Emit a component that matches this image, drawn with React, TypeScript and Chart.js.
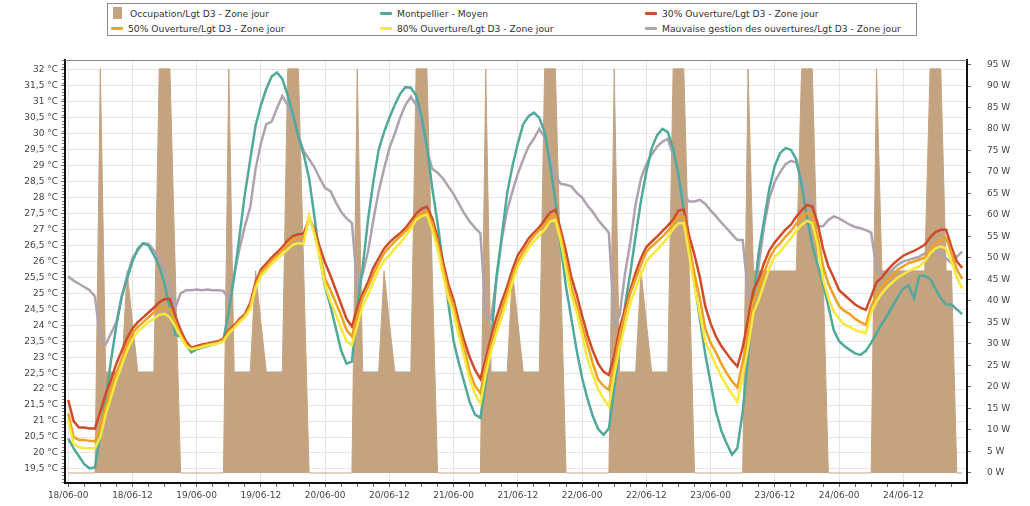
import React, { useEffect, useRef } from 'react';
import { Chart, registerables } from 'chart.js';

Chart.register(...registerables);

// X tick labels, one every 12 hours (hour 0 = 18/06-00)
const xTickLabels = [
  '18/06-00', '18/06-12', '19/06-00', '19/06-12', '20/06-00', '20/06-12', '21/06-00',
  '21/06-12', '22/06-00', '22/06-12', '23/06-00', '23/06-12', '24/06-00', '24/06-12',
];

// Occupation/Lgt D3 - Zone jour (W), hourly
const occupation = [
  0, 0, 0, 0, 0, 0, 94, 23.5, 23.5, 23.5, 23.5, 47, 35, 23.5, 23.5, 23.5, 23.5, 94, 94, 94, 47, 0, 0, 0,
  0, 0, 0, 0, 0, 0, 94, 23.5, 23.5, 23.5, 23.5, 47, 35, 23.5, 23.5, 23.5, 23.5, 94, 94, 94, 47, 0, 0, 0,
  0, 0, 0, 0, 0, 0, 94, 23.5, 23.5, 23.5, 23.5, 47, 35, 23.5, 23.5, 23.5, 23.5, 94, 94, 94, 47, 0, 0, 0,
  0, 0, 0, 0, 0, 0, 94, 23.5, 23.5, 23.5, 23.5, 47, 35, 23.5, 23.5, 23.5, 23.5, 94, 94, 94, 47, 0, 0, 0,
  0, 0, 0, 0, 0, 0, 94, 23.5, 23.5, 23.5, 23.5, 47, 35, 23.5, 23.5, 23.5, 23.5, 94, 94, 94, 47, 0, 0, 0,
  0, 0, 0, 0, 0, 0, 0, 94, 47, 47, 47, 47, 47, 47, 47, 47, 47, 94, 94, 94, 47, 47, 0, 0,
  0, 0, 0, 0, 0, 0, 0, 94, 47, 47, 47, 47, 47, 47, 47, 47, 47, 94, 94, 94, 47, 47, 0, 0,
];

// Montpellier - Moyen (°C)
const montpellier = [
  20.45, 20.15, 19.9, 19.65, 19.52, 19.55, 20.6, 21.7, 22.9, 24.0, 24.9, 25.45, 26.0, 26.4, 26.57, 26.5, 26.2, 25.85, 25.3, 24.5, 23.7, 23.65, 23.4, 23.15,
  23.25, 23.3, 23.35, 23.4, 23.45, 23.55, 24.45, 25.5, 26.8, 28.1, 29.18, 30.25, 30.9, 31.4, 31.79, 31.92, 31.72, 31.2, 30.6, 29.9, 29.35, 28.6, 27.4, 26.1,
  25.2, 24.6, 23.9, 23.2, 22.8, 22.86, 24.6, 25.8, 27.3, 28.5, 29.5, 30.05, 30.5, 30.9, 31.25, 31.46, 31.44, 31.2, 30.55, 29.6, 28.3, 27.2, 25.95, 24.7,
  23.5, 22.8, 22.2, 21.6, 21.2, 21.1, 22.2, 23.5, 25.5, 26.8, 28.14, 29.0, 29.7, 30.3, 30.55, 30.66, 30.5, 30.05, 29.05, 27.9, 26.5, 25.2, 24.2, 23.2,
  22.35, 21.7, 21.15, 20.75, 20.57, 20.77, 22.0, 23.3, 24.6, 25.63, 26.8, 27.9, 28.8, 29.55, 29.95, 30.15, 30.05, 29.55, 28.7, 27.6, 26.4, 25.3, 24.2, 23.1,
  22.2, 21.3, 20.7, 20.3, 19.95, 20.15, 21.3, 23.0, 24.8, 26.3, 27.3, 28.3, 29.0, 29.4, 29.55, 29.5, 29.2, 28.4, 27.4, 26.5, 25.9, 25.3, 24.6, 23.85,
  23.5, 23.35, 23.23, 23.12, 23.07, 23.2, 23.45, 23.75, 24.05, 24.3, 24.6, 24.9, 25.15, 25.25, 24.85, 25.55, 25.55, 25.45, 25.15, 24.85, 24.65, 24.65, 24.5, 24.35,
];

// 30% Ouverture/Lgt D3 - Zone jour (°C)
const ouverture30 = [
  21.66, 21.0, 20.8, 20.8, 20.77, 20.77, 21.3, 21.85, 22.3, 22.8, 23.2, 23.6, 23.9, 24.1, 24.25, 24.4, 24.55, 24.72, 24.82, 24.82, 24.3, 23.85, 23.5, 23.3,
  23.35, 23.4, 23.43, 23.47, 23.5, 23.58, 23.85, 24.0, 24.2, 24.35, 24.7, 25.35, 25.75, 25.93, 26.12, 26.28, 26.45, 26.65, 26.8, 26.85, 26.87, 27.35, 27.0, 26.45,
  25.95, 25.55, 25.1, 24.65, 24.2, 23.96, 24.55, 25.0, 25.35, 25.8, 26.1, 26.4, 26.6, 26.75, 26.88, 27.05, 27.27, 27.5, 27.65, 27.72, 27.35, 26.75, 26.0, 25.3,
  24.79, 24.1, 23.5, 23.0, 22.6, 22.32, 22.95, 23.65, 24.25, 24.75, 25.21, 25.75, 26.2, 26.45, 26.72, 26.9, 27.07, 27.3, 27.53, 27.62, 27.0, 26.3, 25.5, 24.95,
  24.3, 23.7, 23.2, 22.8, 22.55, 22.44, 23.05, 23.9, 24.5, 25.1, 25.65, 26.1, 26.45, 26.62, 26.78, 26.95, 27.12, 27.3, 27.6, 27.62, 26.8, 26.2, 25.5, 24.6,
  24.06, 23.65, 23.35, 23.12, 22.9, 22.71, 23.3, 24.2, 25.1, 25.45, 25.95, 26.35, 26.6, 26.8, 27.0, 27.15, 27.4, 27.6, 27.77, 27.72, 27.2, 26.4, 25.85, 25.5,
  25.1, 24.95, 24.8, 24.65, 24.55, 24.48, 24.9, 25.35, 25.5, 25.72, 25.9, 26.05, 26.18, 26.26, 26.33, 26.42, 26.52, 26.75, 26.92, 26.99, 26.99, 26.45, 26.0, 25.8,
];

// 50% Ouverture/Lgt D3 - Zone jour (°C)
const ouverture50 = [
  21.24, 20.51, 20.41, 20.41, 20.38, 20.36, 20.8, 21.45, 22.0, 22.5, 22.95, 23.4, 23.75, 23.95, 24.1, 24.25, 24.4, 24.55, 24.58, 24.5, 24.1, 23.7, 23.4, 23.25,
  23.3, 23.35, 23.4, 23.43, 23.46, 23.54, 23.8, 23.95, 24.15, 24.3, 24.6, 25.25, 25.65, 25.83, 26.03, 26.18, 26.35, 26.55, 26.7, 26.7, 26.72, 27.38, 26.9, 26.25,
  25.45, 25.1, 24.7, 24.3, 23.85, 23.65, 24.3, 24.85, 25.2, 25.6, 25.95, 26.25, 26.45, 26.63, 26.78, 26.95, 27.12, 27.35, 27.5, 27.56, 27.2, 26.6, 25.8, 25.1,
  24.6, 23.9, 23.25, 22.55, 22.1, 21.87, 22.75, 23.4, 24.0, 24.5, 25.0, 25.55, 26.0, 26.3, 26.58, 26.8, 26.98, 27.15, 27.4, 27.45, 26.8, 26.0, 25.2, 24.6,
  24.0, 23.4, 22.8, 22.3, 22.1, 21.98, 22.75, 23.65, 24.35, 25.0, 25.45, 25.9, 26.3, 26.47, 26.62, 26.78, 26.95, 27.2, 27.41, 27.41, 26.55, 25.6, 24.85, 23.9,
  23.45, 23.15, 22.8, 22.5, 22.25, 22.05, 22.85, 23.75, 24.75, 25.15, 25.65, 26.1, 26.4, 26.57, 26.78, 26.95, 27.18, 27.38, 27.51, 27.45, 26.8, 25.85, 25.3, 24.95,
  24.6, 24.45, 24.35, 24.2, 24.1, 24.01, 24.6, 24.95, 25.2, 25.4, 25.55, 25.75, 25.85, 25.95, 26.0, 26.06, 26.12, 26.35, 26.55, 26.67, 26.73, 26.25, 25.75, 25.45,
];

// 80% Ouverture/Lgt D3 - Zone jour (°C)
const ouverture80 = [
  21.03, 20.3, 20.18, 20.15, 20.15, 20.15, 20.5, 21.2, 21.75, 22.3, 22.75, 23.2, 23.55, 23.8, 23.95, 24.1, 24.2, 24.33, 24.36, 24.25, 23.95, 23.65, 23.35, 23.25,
  23.28, 23.32, 23.37, 23.4, 23.43, 23.5, 23.75, 23.9, 24.1, 24.25, 24.5, 25.15, 25.55, 25.72, 25.92, 26.07, 26.22, 26.38, 26.53, 26.57, 26.55, 27.45, 26.85, 26.1,
  25.25, 24.75, 24.35, 23.9, 23.5, 23.38, 24.0, 24.6, 24.95, 25.35, 25.75, 26.02, 26.2, 26.4, 26.57, 26.8, 27.02, 27.3, 27.42, 27.46, 27.0, 26.4, 25.6, 24.85,
  24.38, 23.65, 23.0, 22.3, 21.85, 21.55, 22.45, 23.2, 23.75, 24.25, 24.79, 25.35, 25.85, 26.15, 26.42, 26.62, 26.82, 27.0, 27.25, 27.3, 26.65, 25.75, 24.95, 24.4,
  23.7, 22.95, 22.45, 22.0, 21.7, 21.45, 22.45, 23.3, 24.0, 24.69, 25.15, 25.6, 26.0, 26.2, 26.36, 26.55, 26.75, 27.02, 27.2, 27.2, 26.2, 25.2, 24.35, 23.5,
  23.12, 22.75, 22.4, 22.1, 21.85, 21.61, 22.4, 23.3, 24.4, 24.8, 25.3, 25.8, 26.15, 26.3, 26.52, 26.72, 26.95, 27.15, 27.27, 27.2, 26.5, 25.45, 24.85, 24.45,
  24.2, 24.02, 23.95, 23.85, 23.8, 23.75, 24.4, 24.75, 25.0, 25.2, 25.35, 25.5, 25.6, 25.7, 25.78, 25.84, 26.0, 26.25, 26.4, 26.47, 26.4, 26.0, 25.5, 25.15,
];

// Mauvaise gestion des ouvertures/Lgt D3 - Zone jour (°C)
const mauvaiseGestion = [
  25.53, 25.4, 25.3, 25.2, 25.1, 24.9, 23.55, 23.4, 23.75, 24.1, 24.9, 25.55, 26.1, 26.35, 26.57, 26.55, 26.35, 26.1, 25.75, 25.2, 24.55, 25.0, 25.1, 25.1,
  25.12, 25.1, 25.12, 25.1, 25.1, 25.08, 24.8, 25.6, 26.4, 27.1, 27.7, 28.9, 29.7, 30.3, 30.38, 30.8, 31.18, 30.9, 30.45, 29.95, 29.45, 29.2, 28.95, 28.6,
  28.3, 28.2, 27.85, 27.55, 27.35, 27.2, 25.2, 25.6, 26.3, 27.3, 28.2, 28.9, 29.55, 30.0, 30.5, 30.9, 31.16, 30.9, 30.25, 29.5, 28.9, 28.78, 28.6, 28.35,
  28.1, 27.8, 27.5, 27.25, 27.05, 26.88, 24.3, 24.2, 25.45, 26.7, 27.6, 28.2, 28.75, 29.2, 29.6, 29.85, 30.15, 29.9, 29.3, 28.7, 28.43, 28.4, 28.35, 28.15,
  28.0, 27.75, 27.55, 27.3, 27.1, 26.9, 24.0, 24.3, 25.6, 26.6, 27.8, 28.6, 29.05, 29.35, 29.6, 29.75, 29.84, 29.35, 28.7, 28.05, 27.88, 27.88, 27.93, 27.8,
  27.6, 27.42, 27.22, 27.04, 26.85, 26.67, 26.67, 25.0, 24.7, 25.9, 27.1, 28.0, 28.5, 28.8, 29.05, 29.15, 29.1, 28.6, 28.15, 27.75, 27.1, 27.1, 27.3, 27.41,
  27.35, 27.25, 27.15, 27.08, 27.04, 26.98, 26.9, 25.75, 25.6, 25.63, 25.75, 25.9, 26.0, 26.05, 26.1, 26.15, 26.25, 26.31, 26.36, 26.25, 26.1, 25.95, 26.15, 26.31,
];

const FONT = '"DejaVu Sans", Verdana, sans-serif';

const COLORS = {
  occupation: '#C4A380',
  montpellier: '#50A99B',
  o30: '#CF4B29',
  o50: '#EFA122',
  o80: '#F6E83C',
  mauvaise: '#AEA2AE',
};

const legendItems = [
  { label: 'Occupation/Lgt D3 - Zone jour', color: COLORS.occupation, box: true, left: 113, top: 6 },
  { label: 'Montpellier - Moyen', color: COLORS.montpellier, box: false, left: 380, top: 6 },
  { label: '30% Ouverture/Lgt D3 - Zone jour', color: COLORS.o30, box: false, left: 645, top: 6 },
  { label: '50% Ouverture/Lgt D3 - Zone jour', color: COLORS.o50, box: false, left: 111, top: 21 },
  { label: '80% Ouverture/Lgt D3 - Zone jour', color: COLORS.o80, box: false, left: 380, top: 21 },
  { label: 'Mauvaise gestion des ouvertures/Lgt D3 - Zone jour', color: COLORS.mauvaise, box: false, left: 645, top: 21 },
];

const frameAndMinorTicks = {
  id: 'frameAndMinorTicks',
  afterDraw(chart: any) {
    const { ctx, chartArea, scales } = chart;
    ctx.save();
    ctx.strokeStyle = '#888';
    ctx.lineWidth = 1;
    ctx.beginPath();
    ctx.moveTo(chartArea.left, chartArea.top + 0.5);
    ctx.lineTo(chartArea.right, chartArea.top + 0.5);
    ctx.stroke();
    // minor ticks on the left axis (every 0.1 °C)
    const y = scales.y;
    ctx.strokeStyle = '#777';
    ctx.beginPath();
    for (let k = 191; k <= 323; k++) {
      if (k % 5 === 0) continue;
      const py = Math.round(y.getPixelForValue(k / 10)) + 0.5;
      ctx.moveTo(chartArea.left - 3, py);
      ctx.lineTo(chartArea.left - 1, py);
    }
    ctx.stroke();
    ctx.restore();
  },
};

export default function App() {
  const canvasRef = useRef<HTMLCanvasElement>(null);

  useEffect(() => {
    const pts = (arr: number[]) => arr.map((v, i) => ({ x: i, y: v }));
    const line = (label: string, data: number[], color: string, order: number) => ({
      label,
      data: pts(data),
      borderColor: color,
      backgroundColor: color,
      borderWidth: 2.5,
      pointRadius: 0,
      tension: 0,
      fill: false,
      yAxisID: 'y',
      order,
    });
    const tickFont = { family: FONT, size: 9 };
    const chart = new Chart(canvasRef.current as HTMLCanvasElement, {
      type: 'line',
      data: {
        datasets: [
          {
            label: 'Occupation/Lgt D3 - Zone jour',
            data: pts(occupation),
            borderColor: COLORS.occupation,
            backgroundColor: COLORS.occupation,
            borderWidth: 1,
            pointRadius: 0,
            tension: 0,
            fill: 'origin',
            yAxisID: 'y1',
            order: 10,
          },
          line('Mauvaise gestion des ouvertures/Lgt D3 - Zone jour', mauvaiseGestion, COLORS.mauvaise, 6),
          line('Montpellier - Moyen', montpellier, COLORS.montpellier, 5),
          line('30% Ouverture/Lgt D3 - Zone jour', ouverture30, COLORS.o30, 3),
          line('50% Ouverture/Lgt D3 - Zone jour', ouverture50, COLORS.o50, 2),
          line('80% Ouverture/Lgt D3 - Zone jour', ouverture80, COLORS.o80, 1),
        ] as any,
      },
      options: {
        animation: false,
        responsive: false,
        devicePixelRatio: 1,
        layout: { padding: { top: 60, left: 0, right: 0, bottom: 0 } },
        plugins: { legend: { display: false }, tooltip: { enabled: false } },
        scales: {
          x: {
            type: 'linear',
            min: -0.6,
            max: 167.9,
            afterFit: (s: any) => { s.height = 23; },
            ticks: {
              stepSize: 3,
              autoSkip: false,
              maxRotation: 0,
              minRotation: 0,
              includeBounds: false,
              padding: 3,
              color: '#444',
              font: tickFont,
              callback: (v: any) => (Math.round(v) % 12 === 0 ? xTickLabels[Math.round(v) / 12] ?? '' : ''),
            },
            grid: {
              color: (c: any) => (c.tick && Math.round(c.tick.value) % 12 === 0 ? '#e4e4e4' : 'rgba(0,0,0,0)'),
              tickColor: '#666',
              tickLength: 4,
            },
            border: { color: '#111', width: 2 },
          },
          y: {
            position: 'left',
            min: 19.06,
            max: 32.31,
            afterFit: (s: any) => { s.width = 65; },
            ticks: {
              stepSize: 0.5,
              includeBounds: false,
              padding: 3,
              color: '#444',
              font: tickFont,
              callback: (v: any) => {
                const r = Math.round(v * 2) / 2;
                return (Number.isInteger(r) ? String(r) : r.toFixed(1).replace('.', ',')) + ' °C';
              },
            },
            grid: { color: '#e6e6e6', tickColor: '#666', tickLength: 4 },
            border: { color: '#111', width: 2 },
          },
          y1: {
            position: 'right',
            min: -2.33,
            max: 96.05,
            afterFit: (s: any) => { s.width = 63; },
            ticks: {
              stepSize: 5,
              includeBounds: false,
              padding: 16,
              color: '#444',
              font: tickFont,
              callback: (v: any) => Math.round(v) + ' W',
            },
            grid: { drawOnChartArea: false, tickColor: '#666', tickLength: 4 },
            border: { color: '#111', width: 2 },
          },
        },
      } as any,
      plugins: [frameAndMinorTicks],
    });
    return () => chart.destroy();
  }, []);

  return (
    <div style={{ position: 'fixed', left: 0, top: 0, width: 1030, height: 506, background: '#fff', overflow: 'hidden' }}>
      <canvas ref={canvasRef} width={1030} height={506} style={{ position: 'absolute', left: 0, top: 0, width: 1030, height: 506 }} />
      <div
        style={{
          position: 'absolute',
          left: 107,
          top: 3,
          width: 810,
          height: 33,
          border: '1px solid #8a8a8a',
          background: '#fff',
          boxSizing: 'border-box',
        }}
      />
      {legendItems.map((it) => (
        <div
          key={it.label}
          style={{
            position: 'absolute',
            left: it.left,
            top: it.top,
            height: 14,
            display: 'flex',
            alignItems: 'center',
            fontFamily: FONT,
            fontSize: 9.2,
            color: '#333',
            whiteSpace: 'nowrap',
          }}
        >
          {it.box ? (
            <span style={{ display: 'inline-block', width: 9, height: 12, background: it.color, marginRight: 8 }} />
          ) : (
            <span style={{ display: 'inline-block', width: 12, height: 3, background: it.color, marginRight: 5, borderRadius: 1 }} />
          )}
          <span>{it.label}</span>
        </div>
      ))}
    </div>
  );
}
